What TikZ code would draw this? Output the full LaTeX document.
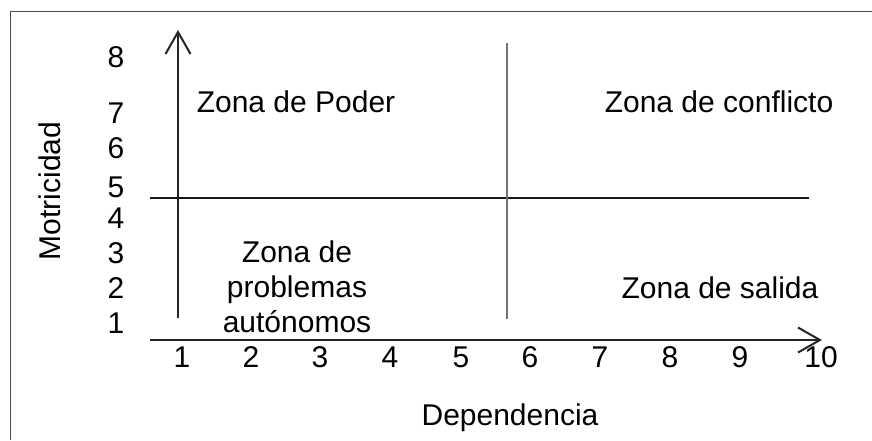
\documentclass[tikz,border=0pt]{standalone}
\usepackage{fontspec}
\setmainfont{Liberation Sans}
\usetikzlibrary{positioning}
\usetikzlibrary{arrows.meta}
\tikzset{
    matriz/.style={
            x=0.5pt,y=-0.5pt,
            every node/.style={font=\fontsize{15}{17.5}\selectfont,inner sep=0pt},
            eje/.style={line width=1.2pt,draw=black!85,-{Straight Barb[length=11pt,width=12.5pt,line width=1pt]}},
            divisor/.style={line width=1pt,draw=black!55},
            zona/.style={align=center}
        }
    }

\begin{document}
\begin{tikzpicture}[matriz]
                \useasboundingbox (0,0) rectangle (872,440);
                \draw [black!70, line width=0.5pt] (10,440) |- (872,11);
                % ejes
                \coordinate (O) at (150,340);
                \coordinate (Xf) at (822,340);
                \coordinate (Yi) at (178,318);
                \coordinate (Yf) at (178,30);
                \draw [eje] (O) -- (Xf);
                \draw [eje] (Yi) -- (Yf);
                % cuadrantes
                \coordinate (Hi) at (150,198);
                \coordinate (Hf) at (809,198);
                \coordinate (Vi) at (507,43);
                \coordinate (Vf) at (507,319);
                \draw [divisor, draw=black!90, line width=0.8pt] (Hi) -- (Hf);
                \draw [divisor] (Vi) -- (Vf);
                % escalas
                \foreach \v/\yb in {1/333,2/298,3/263,4/228,5/197,6/158,7/123,8/67}
                    \node (m\v) [anchor=base] at (116,\yb) {\v};
                \foreach \v/\xb in {1/182,2/251,3/320,4/390,5/461,6/530,7/600,8/670,9/740,10/821}
                    \node (d\v) [anchor=base] at (\xb,367) {\v};
                \node (Mot) [rotate=90] at (50,191) {Motricidad};
                \node (Dep) [anchor=base] at (510,425) {Dependencia};
                % zonas
                \node (poder) [anchor=base] at (296,112) {Zona de Poder};
                \node (conflicto) [anchor=base] at (719,112) {Zona de conflicto};
                \node (autonomos) [zona] at (297,287) {Zona de\\problemas\\autónomos};
                \node (salida) [anchor=base] at (720,298) {Zona de salida};
            \end{tikzpicture}
\end{document}
